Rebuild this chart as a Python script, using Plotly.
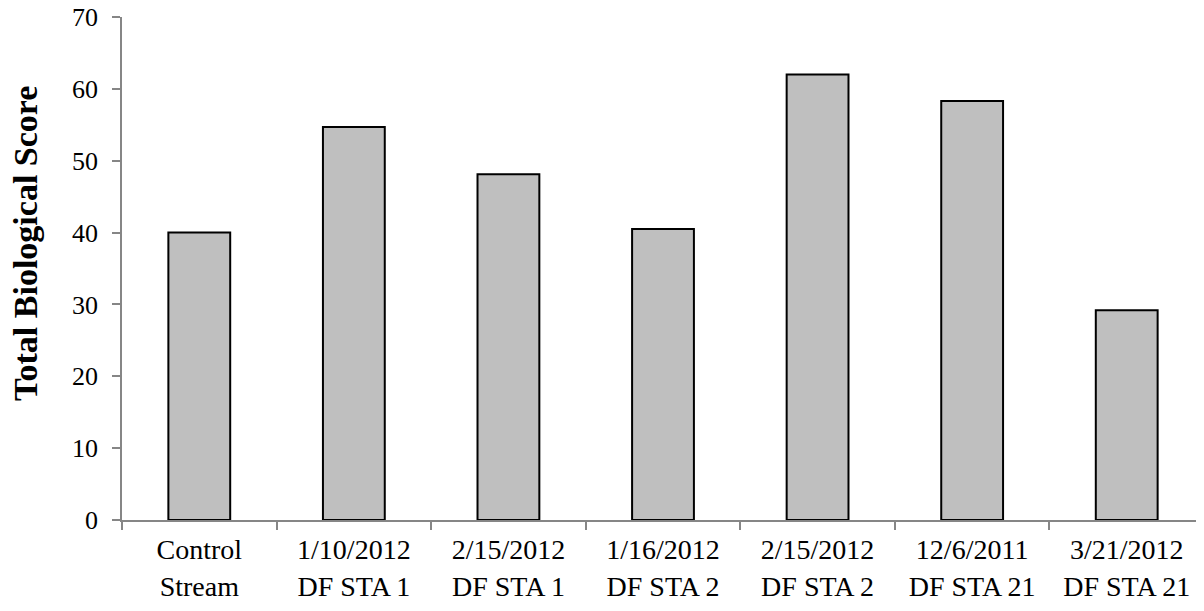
import plotly.graph_objects as go

categories = ["Control<br>Stream", "1/10/2012<br>DF STA 1", "2/15/2012<br>DF STA 1",
              "1/16/2012<br>DF STA 2", "2/15/2012<br>DF STA 2", "12/6/2011<br>DF STA 21",
              "3/21/2012<br>DF STA 21"]
scores = [40.0, 54.7, 48.1, 40.5, 62.0, 58.3, 29.2]
y_ticks = [0, 10, 20, 30, 40, 50, 60, 70]
y_title = "Total Biological Score"

fig = go.Figure(go.Bar(
    x=categories, y=scores,
    marker=dict(color="#bfbfbf", line=dict(color="black", width=2)),
))

font = "Liberation Serif, Times New Roman, serif"
fig.update_layout(
    width=1196, height=603,
    margin=dict(l=114, r=0, t=9, b=91, autoexpand=False),
    plot_bgcolor="white", paper_bgcolor="white",
    bargap=0.6, showlegend=False,
    font=dict(family=font, size=24, color="black"),
)
fig.update_xaxes(
    showline=True, linecolor="#868686", linewidth=1.5,
    ticks="outside", tickson="boundaries", ticklen=8, tickcolor="#868686", tickwidth=1.5,
    ticklabelstandoff=4,
    tickfont=dict(family=font, size=28, color="black"),
    showgrid=False, automargin=False,
)
fig.update_yaxes(
    range=[0, 70], tickvals=y_ticks,
    showline=True, linecolor="#868686", linewidth=1.5,
    ticks="outside", ticklen=8, tickcolor="#868686", tickwidth=1.5,
    ticklabelstandoff=9, ticklabeloverflow="allow",
    tickfont=dict(family=font, size=26, color="black"),
    showgrid=False, zeroline=False, automargin=False,
)
fig.add_annotation(
    text="<b>" + y_title + "</b>", textangle=-90,
    xref="paper", yref="paper", x=-0.089, y=0.55,
    xanchor="center", yanchor="middle", showarrow=False,
    font=dict(family=font, size=34, color="black"),
)
fig.write_html("out.html")
